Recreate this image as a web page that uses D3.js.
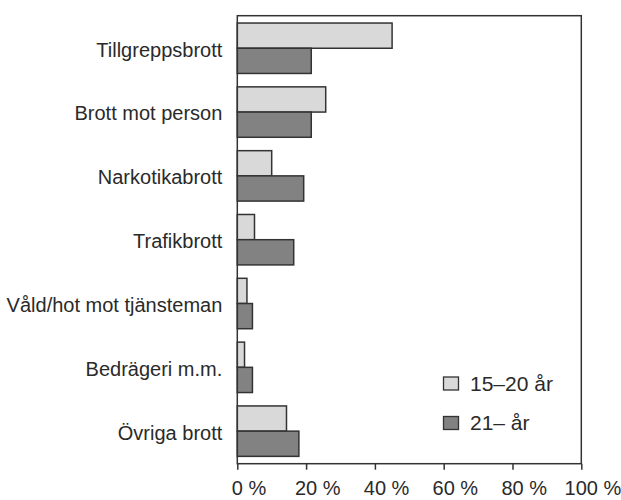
<!DOCTYPE html>
<html>
<head>
<meta charset="utf-8">
<script src="https://cdn.jsdelivr.net/npm/d3@7"></script>
<style>
  body { margin: 0; background: #fff; }
  text { font-family: "Liberation Sans", Arial, sans-serif; fill: #2a2a2a; }
</style>
</head>
<body>
<svg id="chart" width="621" height="500"></svg>
<script>
// data (percent)
let categories = ["Tillgreppsbrott", "Brott mot person", "Narkotikabrott", "Trafikbrott",
  "Våld/hot mot tjänsteman", "Bedrägeri m.m.", "Övriga brott"];
let young = [45.0, 25.7, 10.0, 5.0, 2.8, 2.1, 14.3];   // 15–20 år
let adult = [21.5, 21.5, 19.3, 16.4, 4.4, 4.4, 17.9];  // 21– år
let seriesNames = ["15–20 år", "21– år"];
let xTicks = [0, 20, 40, 60, 80, 100];

let light = "#d9d9d9", dark = "#828282", edge = "#333";

// plot frame (window.top is taken, so no "top" here)
let plotL = 237.3, plotR = 581.3, plotT = 15.7, plotB = 463.7;

let svg = d3.select("#chart");

let x = d3.scaleLinear().domain([0, 100]).range([plotL, plotR]);
let y = d3.scaleBand().domain(categories).range([plotT, plotB])
  .paddingInner(0.21).paddingOuter(0.115);
let y1 = d3.scaleBand().domain([0, 1]).range([0, y.bandwidth()]);

// bars
let groups = svg.selectAll("g.cat")
  .data(categories)
  .enter().append("g")
  .attr("class", "cat")
  .attr("transform", d => "translate(0," + y(d) + ")");

groups.append("rect")
  .attr("x", x(0))
  .attr("y", y1(0))
  .attr("width", (d, i) => x(young[i]) - x(0))
  .attr("height", y1.bandwidth())
  .attr("fill", light).attr("stroke", edge).attr("stroke-width", 1.5);

groups.append("rect")
  .attr("x", x(0))
  .attr("y", y1(1))
  .attr("width", (d, i) => x(adult[i]) - x(0))
  .attr("height", y1.bandwidth())
  .attr("fill", dark).attr("stroke", edge).attr("stroke-width", 1.5);

// frame
svg.append("rect")
  .attr("x", plotL).attr("y", plotT)
  .attr("width", plotR - plotL).attr("height", plotB - plotT)
  .attr("fill", "none").attr("stroke", edge).attr("stroke-width", 1.5);

// category labels
svg.selectAll("text.cat")
  .data(categories)
  .enter().append("text")
  .attr("class", "cat")
  .attr("x", plotL - 15)
  .attr("y", d => y(d) + y.bandwidth() / 2)
  .attr("dy", "0.42em")
  .attr("text-anchor", "end")
  .attr("font-size", 20)
  .text(d => d);

// x axis
let xAxis = d3.axisBottom(x).tickValues(xTicks).tickSize(6).tickFormat("");
let ax = svg.append("g")
  .attr("transform", "translate(0," + plotB + ")")
  .call(xAxis);
ax.select(".domain").remove();
ax.selectAll(".tick line").attr("stroke", edge).attr("stroke-width", 1.5);

// tick labels: number centred on the tick, " %" trailing
xTicks.forEach(v => {
  let t = svg.append("text")
    .attr("x", x(v))
    .attr("y", 495)
    .attr("text-anchor", "middle")
    .attr("font-size", 20)
    .text(v);
  let w = t.node().getComputedTextLength();
  svg.append("text")
    .attr("x", x(v) + w / 2)
    .attr("y", 495)
    .attr("font-size", 20)
    .text("\u00a0%");
});

// legend
let legend = svg.append("g");
[light, dark].forEach((c, i) => {
  legend.append("rect")
    .attr("x", 443.5).attr("y", 377 + i * 39.5)
    .attr("width", 15).attr("height", 13)
    .attr("fill", c).attr("stroke", edge).attr("stroke-width", 1.3);
  legend.append("text")
    .attr("x", 470).attr("y", 390.5 + i * 39.5)
    .attr("font-size", 21)
    .text(seriesNames[i]);
});
</script>
</body>
</html>
